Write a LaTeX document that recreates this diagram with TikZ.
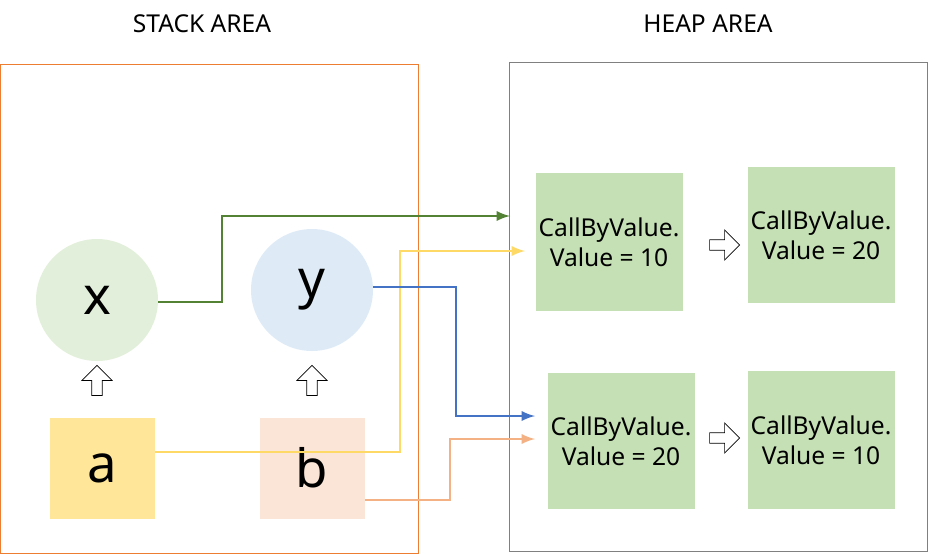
\documentclass[tikz,border=0pt]{standalone}
\usepackage{fontspec}
\setmainfont{Noto Sans}
\usetikzlibrary{shapes.arrows}
\definecolor{stackline}{HTML}{ED7D31}
\definecolor{heapbox}{HTML}{C5E0B4}
\definecolor{xfill}{HTML}{E2EFDA}
\definecolor{yfill}{HTML}{DEEBF7}
\definecolor{afill}{HTML}{FFE699}
\definecolor{bfill}{HTML}{FBE5D6}
\definecolor{gline}{HTML}{548235}
\definecolor{yline}{HTML}{FFD966}
\definecolor{bline}{HTML}{4472C4}
\definecolor{oline}{HTML}{F4B183}
\tikzset{
    var/.style={circle,minimum size=122*0.02cm,inner sep=0pt,font=\fontsize{30}{30}\selectfont\bfseries},
    arg/.style={minimum width=105*0.02cm,minimum height=101*0.02cm,inner sep=0pt,font=\fontsize{30}{30}\selectfont\bfseries},
    obj/.style={fill=heapbox,minimum width=147*0.02cm,inner sep=0pt,align=center,font=\fontsize{14}{17}\selectfont},
    blk/.style={single arrow,draw,fill=white,thin,minimum height=30*0.02cm,minimum width=30*0.02cm,single arrow head extend=0.08cm,inner sep=1pt},
    link/.style={line width=1.6pt,-latex}
}
\begin{document}
\begin{tikzpicture}[x=0.02cm,y=-0.02cm]
    \useasboundingbox (0,0) rectangle (928,555);
    \node[font=\fontsize{14}{14}\selectfont] (stk) at (202,24) {STACK AREA};
    \node[font=\fontsize{14}{14}\selectfont] (hp) at (708,24) {HEAP AREA};
    \draw[stackline] (0,64) rectangle (418,553);
    \draw[gray] (509,62) rectangle (927,551);
    % stack
    \node[var,fill=xfill] (x) at (97,300) {x};
    \node[var,fill=yfill] (y) at (312,290) {y};
    \node[arg,fill=afill] (a) at (102,468) {a};
    \node[arg,fill=bfill] (b) at (312,468) {b};
    \node[blk,rotate=90] (ua) at (97,383) {};
    \node[blk,rotate=90] (ub) at (312,383) {};
    % heap
    \node[obj,minimum height=138*0.02cm] (o1) at (609,242) {CallByValue.\\Value = 10};
    \node[obj,minimum height=136*0.02cm] (o2) at (821,235) {CallByValue.\\Value = 20};
    \node[obj,minimum height=136*0.02cm] (o3) at (621,441) {CallByValue.\\Value = 20};
    \node[obj,minimum height=138*0.02cm] (o4) at (821,440) {CallByValue.\\Value = 10};
    \node[blk] (r1) at (722,245) {};
    \node[blk] (r2) at (722,438) {};
    % links
    \coordinate (g1) at (510,216);
    \coordinate (y1) at (525,251);
    \coordinate (b1) at (535,416);
    \coordinate (o1e) at (535,439);
    \draw[link,gline] (x.east |- 0,302) -- (222,302) -- (222,216) -- (g1);
    \draw[link,yline] (a.east |- 0,452) -- (400,452) -- (400,251) -- (y1);
    \draw[link,bline] (y.east |- 0,287) -- (456,287) -- (456,416) -- (b1);
    \draw[link,oline] (b.east |- 0,500) -- (450,500) -- (450,439) -- (o1e);
\end{tikzpicture}
\end{document}
